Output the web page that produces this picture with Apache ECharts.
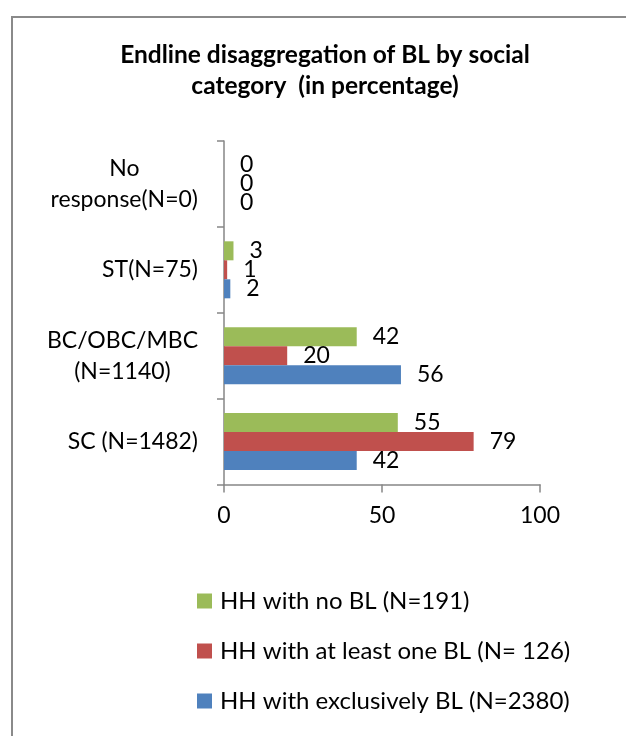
<!DOCTYPE html>
<html>
<head>
<meta charset="utf-8">
<style>
  html, body { margin: 0; padding: 0; background: #ffffff; }
  #chart { width: 626px; height: 736px; }
</style>
<script src="https://cdn.jsdelivr.net/npm/echarts@6/dist/echarts.min.js"></script>
</head>
<body>
<div id="chart"></div>
<script>
// Social categories, listed bottom to top along the y axis
const categories = ['SC (N=1482)', 'BC/OBC/MBC\n(N=1140)', 'ST(N=75)', 'No\nresponse(N=0)'];

// Percentages per household group
const noBL = [55, 42, 3, 0];
const atLeastOneBL = [79, 20, 1, 0];
const exclusivelyBL = [42, 56, 2, 0];

const seriesNames = [
  'HH with no BL (N=191)',
  'HH with at least one BL (N= 126)',
  'HH with exclusively BL (N=2380)'
];
const seriesColors = ['#9BBB59', '#C0504D', '#4F81BD'];

const xTicks = { min: 0, max: 100, interval: 50 };

const FONT = 'Lato';
const FS = 23;
const axisGrey = '#868686';

function barSeries(name, data, color) {
  return {
    name: name,
    type: 'bar',
    data: data,
    barWidth: 19,
    barGap: '0%',
    itemStyle: { color: color },
    label: {
      show: true,
      position: 'right',
      distance: 16,
      color: '#000',
      fontFamily: FONT,
      fontSize: FS
    }
  };
}

const chart = echarts.init(document.getElementById('chart'), null, { renderer: 'canvas' });

chart.setOption({
  animation: false,
  backgroundColor: '#ffffff',
  graphic: [{
    type: 'rect',
    shape: { x: 12, y: 17, width: 700, height: 800 },
    style: { fill: 'none', stroke: '#8a8a8a', lineWidth: 2 },
    silent: true
  }],
  title: {
    text: 'Endline disaggregation of BL by social\ncategory  (in percentage)',
    left: 325,
    top: 40,
    padding: 0,
    textAlign: 'center',
    textStyle: {
      fontFamily: FONT,
      fontWeight: 'bold',
      fontSize: 24.5,
      lineHeight: 31,
      color: '#000'
    }
  },
  legend: {
    orient: 'vertical',
    left: 192,
    top: 584,
    itemWidth: 15,
    itemHeight: 15,
    itemGap: 26,
    icon: 'rect',
    data: seriesNames,
    textStyle: {
      fontFamily: FONT,
      fontSize: 24,
      lineHeight: 22,
      color: '#000',
      padding: [0, 0, 0, 3]
    }
  },
  grid: {
    left: 224,
    right: 86,
    top: 141,
    bottom: 251.5,
    containLabel: false
  },
  xAxis: {
    type: 'value',
    min: xTicks.min,
    max: xTicks.max,
    interval: xTicks.interval,
    splitLine: { show: false },
    axisLine: { show: true, lineStyle: { color: axisGrey, width: 1.5 } },
    axisTick: { show: true, length: 8, lineStyle: { color: axisGrey, width: 1.5 } },
    axisLabel: {
      margin: 20,
      color: '#000',
      fontFamily: FONT,
      fontSize: FS
    }
  },
  yAxis: {
    type: 'category',
    data: categories,
    axisLine: { show: true, lineStyle: { color: axisGrey, width: 1.5 } },
    axisTick: { show: true, length: 7, lineStyle: { color: axisGrey, width: 1.5 } },
    axisLabel: {
      margin: 26,
      color: '#000',
      fontFamily: FONT,
      fontSize: FS,
      lineHeight: 31,
      formatter: function (v) {
        return v.split('\n').map(function (s) { return '{c|' + s + '}'; }).join('\n');
      },
      rich: {
        c: { align: 'center', fontFamily: FONT, fontSize: FS, lineHeight: 31, color: '#000' }
      }
    }
  },
  series: [
    barSeries(seriesNames[0], noBL, seriesColors[0]),
    barSeries(seriesNames[1], atLeastOneBL, seriesColors[1]),
    barSeries(seriesNames[2], exclusivelyBL, seriesColors[2])
  ]
});
</script>
</body>
</html>
